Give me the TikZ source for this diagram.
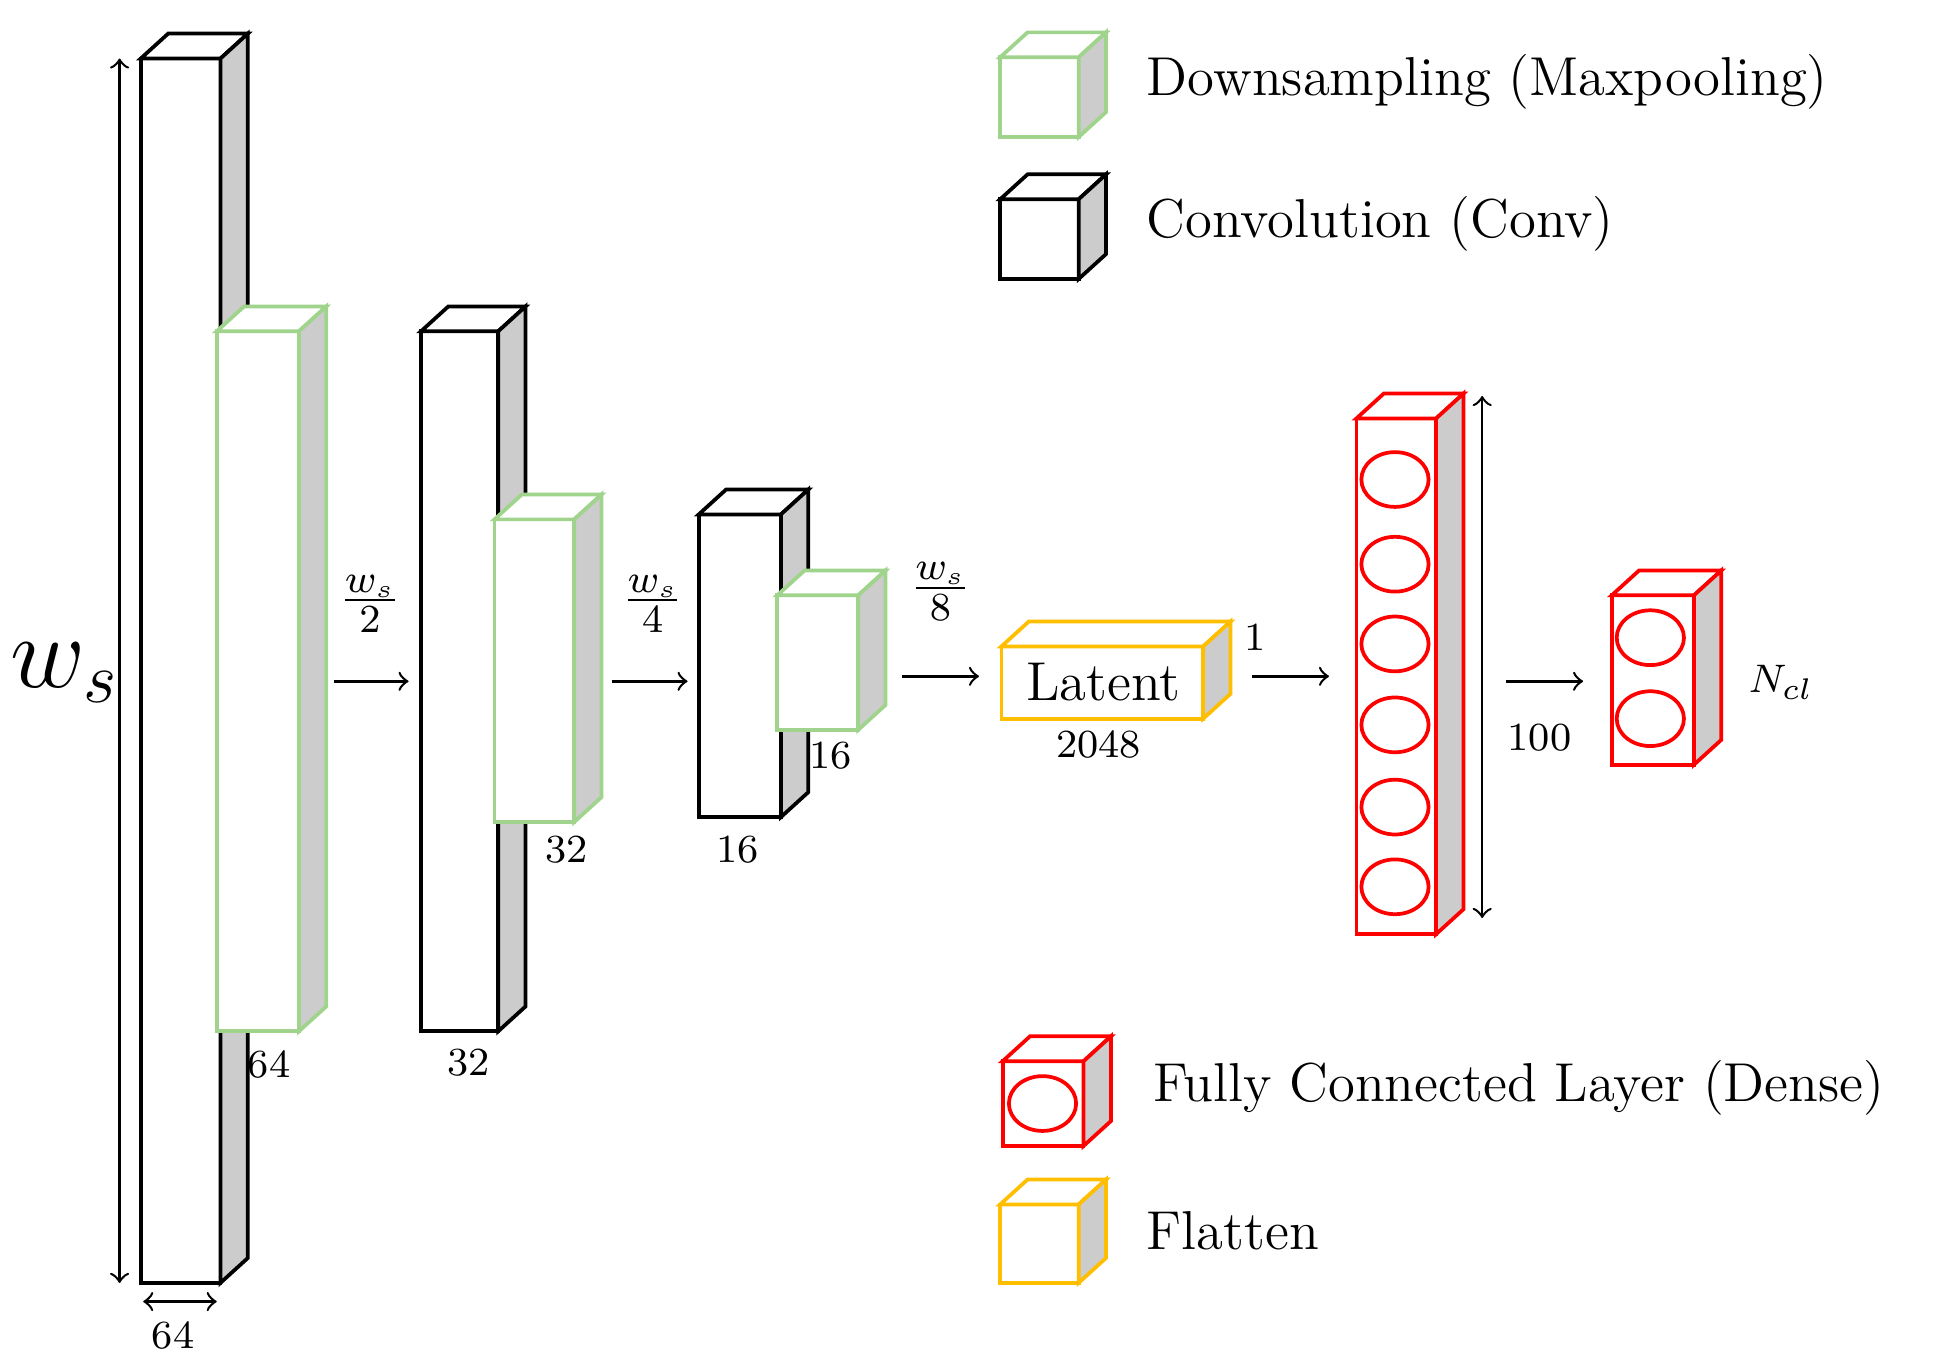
\documentclass[tikz,border=0pt]{standalone}
\usetikzlibrary{shapes.geometric}
\begin{document}
\definecolor{gr}{RGB}{160,212,140}
\definecolor{ye}{RGB}{255,190,0}
\definecolor{rd}{RGB}{255,0,0}
\newcommand\blk[6]{%
\draw[#6,line width=0.75pt,fill=white] (#2,#3) rectangle (#4,#5);
\draw[#6,line width=0.75pt,fill=white] (#2,#3) -- (#2+22,#3-20) -- (#4+22,#3-20) -- (#4,#3) -- cycle;
\draw[#6,line width=0.75pt,fill=black!20] (#4,#3) -- (#4+22,#3-20) -- (#4+22,#5-20) -- (#4,#5) -- cycle;
\coordinate (#1) at ({(#2+#4)/2},{(#3+#5)/2});}
\begin{tikzpicture}[x=0.25pt,y=-0.25pt,
 lab/.style={font=\fontsize{8}{9}\selectfont,inner sep=0},
 leg/.style={font=\fontsize{11}{13}\selectfont,anchor=west,inner sep=0},
 arr/.style={->,line width=0.5pt},
 circ/.style={draw=rd,line width=0.75pt,ellipse,minimum width=13.5pt,minimum height=11pt,inner sep=0}]
\useasboundingbox (0,0) rectangle (1568,1100);
\blk{b1}{113}{47}{177}{1030}{black}
\blk{b2}{174}{266}{240}{828}{gr}
\blk{b3}{338}{266}{400}{828}{black}
\blk{b4}{397}{417}{461}{660}{gr}
\blk{b5}{561}{413}{627}{656}{black}
\blk{b6}{624}{478}{689}{586}{gr}
\blk{b7}{804}{519}{966}{577}{ye}
\blk{b8}{1089}{336}{1153}{750}{rd}
\blk{b9}{1294}{478}{1360}{614}{rd}
\blk{l1}{803}{46}{866}{110}{gr}
\blk{l2}{803}{160}{866}{224}{black}
\blk{l3}{805}{852}{870}{920}{rd}
\blk{l4}{803}{967}{866}{1030}{ye}
\foreach \y [count=\i] in {385,453,517,582,648,712} \node[circ] (c\i) at (1120,\y) {};
\node[circ] (d1) at (1325,512) {};
\node[circ] (d2) at (1325,577) {};
\node[circ] (e1) at (837,886) {};
\node[lab,font=\fontsize{11}{13}\selectfont] (lat) at (886,548) {Latent};
\node[lab] at (216,855) {64};
\node[lab] at (376,853) {32};
\node[lab] at (455,682) {32};
\node[lab] at (592,682) {16};
\node[lab] at (667,607) {16};
\node[lab] at (882,598) {2048};
\node[lab] at (1008,512) {1};
\node[lab] at (1236,592) {100};
\node[lab] at (1430,548) {$N_{cl}$};
\node[lab] at (139,1072) {64};
\node[inner sep=0,font=\fontsize{20}{22}\selectfont] at (52,540) {$w_s$};
\coordinate (v1) at (96,47); \coordinate (v2) at (96,1030);
\draw[<->,line width=0.5pt] (v1) -- (v2);
\coordinate (h1) at (115,1045); \coordinate (h2) at (174,1045);
\draw[<->,line width=0.5pt] (h1) -- (h2);
\coordinate (u1) at (1190,318); \coordinate (u2) at (1190,737);
\draw[<->,line width=0.5pt] (u1) -- (u2);
\foreach \a/\b/\y/\n in {268/328/547/a1,491/552/547/a2,724/786/543/a3,1005/1067/543/a4,1209/1271/547/a5}{
 \coordinate (\n s) at (\a,\y); \coordinate (\n e) at (\b,\y);
 \draw[arr] (\n s) -- (\n e);}
\node[lab,font=\fontsize{11}{13}\selectfont] at (297,485) {$\frac{w_s}{2}$};
\node[lab,font=\fontsize{11}{13}\selectfont] at (524,485) {$\frac{w_s}{4}$};
\node[lab,font=\fontsize{11}{13}\selectfont] at (755,475) {$\frac{w_s}{8}$};
\node[leg] at (920,66) {Downsampling (Maxpooling)};
\node[leg] at (920,180) {Convolution (Conv)};
\node[leg] at (925,873) {Fully Connected Layer (Dense)};
\node[leg] at (920,988) {Flatten};
\end{tikzpicture}
\end{document}
